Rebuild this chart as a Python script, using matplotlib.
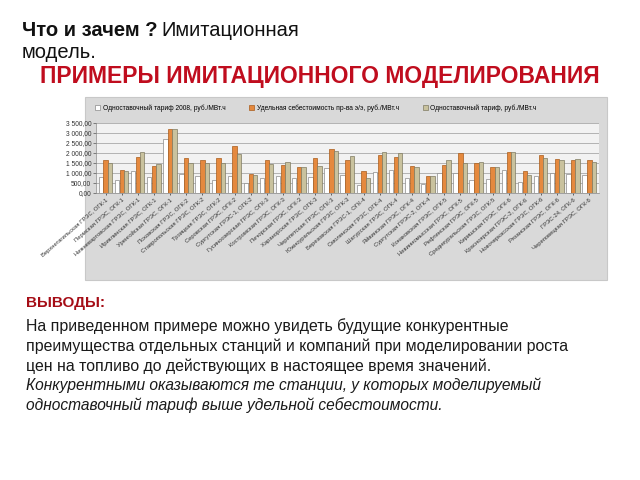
import numpy as np
import matplotlib.pyplot as plt
from matplotlib.patches import Rectangle
from matplotlib.ticker import FuncFormatter, MultipleLocator

plt.rcParams['font.family'] = ['Liberation Sans', 'DejaVu Sans']

# Станции
stations = [
    "Верхнетагильская ГРЭС, ОГК-1", "Пермская ГРЭС, ОГК-1", "Нижневартовская ГРЭС, ОГК-1",
    "Ириклинская ГРЭС, ОГК-1", "Уренгойская ГРЭС, ОГК-1", "Псковская ГРЭС, ОГК-2",
    "Ставропольская ГРЭС, ОГК-2", "Троицкая ГРЭС, ОГК-2", "Серовская ГРЭС, ОГК-2",
    "Сургутская ГРЭС-1, ОГК-2", "Гусиноозерская ГРЭС, ОГК-3", "Костромская ГРЭС, ОГК-3",
    "Печорская ГРЭС, ОГК-3", "Харанорская ГРЭС, ОГК-3", "Черепетская ГРЭС, ОГК-3",
    "Южноуральская ГРЭС, ОГК-3", "Березовская ГРЭС-1, ОГК-4", "Смоленская ГРЭС, ОГК-4",
    "Шатурская ГРЭС, ОГК-4", "Яйвинская ГРЭС, ОГК-4", "Сургутская ГРЭС-2, ОГК-4",
    "Конаковская ГРЭС, ОГК-5", "Невинномысская ГРЭС, ОГК-5", "Рефтинская ГРЭС, ОГК-5",
    "Среднеуральская ГРЭС, ОГК-5", "Киришская ГРЭС, ОГК-6", "Красноярская ГРЭС-2, ОГК-6",
    "Новочеркасская ГРЭС, ОГК-6", "Рязанская ГРЭС, ОГК-6", "ГРЭС-24, ОГК-6",
    "Череповецкая ГРЭС, ОГК-6",
]

# Одноставочный тариф 2008
tariff_2008 = [800, 630, 1100, 800, 2720, 950, 850, 650, 870, 500, 750, 870, 770, 800, 1250,
               900, 420, 1050, 1130, 730, 470, 980, 1000, 650, 720, 1170, 550, 850, 1000, 970, 920]
# Удельная себестоимость
cost = [1630, 1170, 1800, 1370, 3180, 1770, 1650, 1750, 2330, 950, 1630, 1420, 1300, 1750, 2200,
        1670, 1080, 1920, 1780, 1370, 870, 1400, 2000, 1500, 1300, 2030, 1120, 1920, 1700, 1630, 1630]
# Одноставочный тариф (модель)
tariff_model = [1500, 1100, 2030, 1450, 3180, 1520, 1500, 1500, 1970, 920, 1450, 1550, 1300, 1350, 2080,
                1830, 750, 2050, 2000, 1300, 830, 1650, 1480, 1550, 1300, 2030, 920, 1750, 1670, 1700, 1570]

series_names = ["Одноставочный тариф 2008, руб./МВт.ч",
                "Удельная себестоимость пр-ва э/э, руб./МВт.ч",
                "Одноставочный тариф, руб./МВт.ч"]

W, H = 640, 480
fig = plt.figure(figsize=(6.4, 4.8), dpi=100)
fig.patch.set_facecolor('white')


def px(x, y):
    return x / W, 1 - y / H


# Заголовки
fig.text(*px(22, 30), "Что и зачем ?", fontsize=14.5, fontweight='bold', va='center', color='#111111')
fig.text(*px(161, 30), "Имитационная", fontsize=14.5, va='center', color='#111111')
fig.text(*px(22, 53), "модель.", fontsize=14.5, va='center', color='#111111')
fig.text(*px(320, 76), "ПРИМЕРЫ ИМИТАЦИОННОГО МОДЕЛИРОВАНИЯ", fontsize=16.5, fontweight='bold',
         ha='center', va='center', color='#c00d1e')

# Фон диаграммы
fig.add_artist(Rectangle(px(85, 280), 522 / W, 183 / H, transform=fig.transFigure,
                         facecolor='#d9d9d9', edgecolor='#c8c8c8', lw=0.8, zorder=0))

ax = fig.add_axes([96 / W, 1 - 193 / H, 503 / W, 70 / H])
ax.set_facecolor('#f2f2f2')
x = np.arange(len(stations))
w = 0.27
ax.bar(x - 0.3, tariff_2008, w, color='white', edgecolor='#8a8a8a', lw=0.5, label=series_names[0], zorder=3)
ax.bar(x, cost, w, color='#e5893e', edgecolor='#a85c1c', lw=0.5, label=series_names[1], zorder=3)
ax.bar(x + 0.27, tariff_model, w, color='#c9c29e', edgecolor='#7f7b62', lw=0.5, label=series_names[2], zorder=3)

ax.set_xlim(-0.6, len(stations) - 0.4)
ax.set_ylim(0, 3500)
ax.yaxis.set_major_locator(MultipleLocator(500))
ax.yaxis.set_major_formatter(FuncFormatter(lambda v, p: f"{v:,.2f}".replace(',', ' ').replace('.', ',')))
ax.grid(axis='y', color='#9a9a9a', lw=0.5, zorder=0)
ax.tick_params(axis='y', labelsize=4.8, length=2, width=0.4, pad=1.5, colors='#333333')
ax.set_xticks(x)
ax.set_xticklabels(stations, rotation=41, ha='right', rotation_mode='anchor', fontsize=4.2, color='#333333')
ax.tick_params(axis='x', length=1.5, width=0.4, pad=1.5)
for s in ['top', 'right']:
    ax.spines[s].set_visible(False)
for s in ['left', 'bottom']:
    ax.spines[s].set_color('#888888')
    ax.spines[s].set_linewidth(0.5)

fig.legend(loc='center', bbox_to_anchor=px(316, 108), ncol=3, frameon=False, fontsize=4.8,
           handlelength=0.7, handleheight=0.7, columnspacing=3.6, handletextpad=0.4)

# Выводы
fig.text(*px(26, 303), "ВЫВОДЫ:", fontsize=11, fontweight='bold', va='center', color='#a50d16')
lines = ["На приведенном примере можно увидеть будущие конкурентные",
         "преимущества отдельных станций и компаний при моделировании роста",
         "цен на топливо до действующих в настоящее время значений."]
for i, t in enumerate(lines):
    fig.text(*px(26, 326 + 20 * i), t, fontsize=11.4, va='center', color='#1a1a1a')
italic = ["Конкурентными оказываются те станции, у которых моделируемый",
          "одноставочный тариф выше удельной себестоимости."]
for i, t in enumerate(italic):
    fig.text(*px(26, 385 + 20 * i), t, fontsize=11.2, style='italic', va='center', color='#1a1a1a')

fig.savefig('out.png', dpi=100)
